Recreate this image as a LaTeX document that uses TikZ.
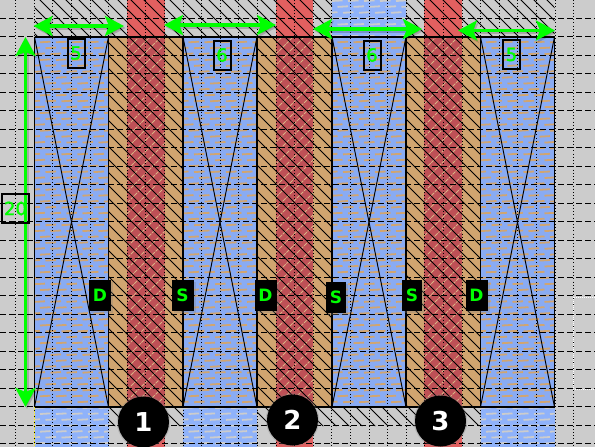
\documentclass[tikz,border=0pt]{standalone}
\usepackage{fontspec}
\setmainfont{DejaVu Sans}
\newfontfamily\medfont[FakeBold=2]{DejaVu Sans}
\usetikzlibrary{arrows.meta,shadows}
\definecolor{bggrey}{RGB}{204,204,204}
\definecolor{tanc}{RGB}{209,165,112}
\definecolor{redb}{RGB}{226,96,96}
\definecolor{redd}{RGB}{190,80,86}
\definecolor{blued}{RGB}{137,171,243}
\definecolor{bluel}{RGB}{143,178,250}
\definecolor{greenc}{RGB}{0,255,0}
\tikzset{
  x=1pt,y=-1pt,
  diagline/.style={black,line width=.9pt},
  crossline/.style={tanc!85!white,line width=.8pt,dash pattern=on 4pt off 1pt},
  gridh/.style={black,line width=1.1pt,dash pattern=on 5.5pt off 3.5pt},
  gridv/.style={black,line width=1.1pt,dash pattern=on 1pt off 2.2pt},
  cell/.style={black,line width=1.2pt},
  xline/.style={black,line width=.9pt},
  dimline/.style={greenc,line width=3.6pt,{Stealth[length=19pt,width=20pt,inset=4pt]}-{Stealth[length=19pt,width=20pt,inset=4pt]}},
  dimshadow/.style={black,opacity=.18,line width=3.6pt,{Stealth[length=19pt,width=20pt,inset=4pt]}-{Stealth[length=19pt,width=20pt,inset=4pt]}},
  dimlabel/.style={draw=black,line width=2pt,text=greenc,font=\medfont\fontsize{18}{18}\selectfont,inner sep=0pt,minimum width=17pt,minimum height=29pt},
  termlabel/.style={fill=black,text=greenc,font=\bfseries\fontsize{17}{17}\selectfont,inner sep=0pt,minimum width=22pt,minimum height=31pt,drop shadow={opacity=.3,shadow xshift=2pt,shadow yshift=-2pt}},
  gatecircle/.style={circle,fill=black,text=white,font=\bfseries\fontsize{26}{26}\selectfont,inner sep=0pt,minimum size=51pt,drop shadow={opacity=.3,shadow xshift=0pt,shadow yshift=0pt,shadow scale=1.05}},
  texdash/.style={line width=1.8pt},
}
\newcommand{\dimarr}[2]{%
  \draw[dimshadow,transform canvas={shift={(1.5pt,-2pt)}}] (#1) -- (#2);
  \draw[dimline] (#1) -- (#2);}
\newcommand{\bluetex}[4]{%
  \foreach \k in {#3,...,#4}{
    \pgfmathsetmacro{\yy}{\k*5.9+1}
    \pgfmathsetmacro{\off}{mod(\k,3)*5.5}
    \foreach \j in {-1,0,1,2,3,4}{
      \pgfmathsetmacro{\xs}{#1+\j*16+\off}
      \draw[texdash,draw=#2] (\xs,\yy) -- ++(10.5,-.6);
    }
  }}
\begin{document}
\begin{tikzpicture}
\useasboundingbox (0,0) rectangle (595,447);
\clip (0,0) rectangle (595,447);
\fill[bggrey] (0,0) rectangle (595,447);
\foreach \x in {127,275.5,424}{
  \fill[redb] (\x,0) rectangle (\x+37.5,447);
  \fill[redd] (\x,37) rectangle (\x+37.5,407);
}
\foreach \x/\w in {108.5/18.5,164.5/18.5,257/18.5,313/19,406/18,462/18}{
  \fill[tanc] (\x,37) rectangle (\x+\w,407);
}
\foreach \x in {34.5,183,332,480.5}{
  \fill[blued] (\x,37) rectangle (\x+74,407);
  \begin{scope}
    \clip (\x,37) rectangle (\x+74,407);
    \bluetex{\x}{tanc}{6}{70}
  \end{scope}
}
\foreach \x/\ya/\yb/\ra/\rb in {34.5/407/447/69/76,183/407/447/69/76,480.5/407/447/69/76,332/0/37/0/7}{
  \fill[bluel] (\x,\ya) rectangle (\x+74,\yb);
  \begin{scope}
    \clip (\x,\ya) rectangle (\x+74,\yb);
    \bluetex{\x}{bggrey}{\ra}{\rb}
  \end{scope}
}
\begin{scope}
  \clip (127,37) rectangle (164.5,407) (275.5,37) rectangle (313,407) (424,37) rectangle (461.5,407);
  \foreach \c in {0,11,...,1040}{
    \draw[crossline] (0,\c) -- (600,\c-600);
  }
\end{scope}
\begin{scope}
  \clip (34.5,0) rectangle (332,37) (406,0) rectangle (554.5,37)
        (108.5,37) rectangle (183,407) (257,37) rectangle (332,407) (406,37) rectangle (480.5,407)
        (108.5,407) rectangle (183,426) (257,407) rectangle (480.5,426);
  \foreach \c in {-560,-547,...,430}{
    \draw[diagline] (0,\c) -- (600,\c+600);
  }
\end{scope}
\foreach \k in {0,...,24}{
  \pgfmathsetmacro{\yy}{-.3+18.5*\k}
  \draw[gridh] (0,\yy) -- (595,\yy);
}
\foreach \k in {-1,...,29}{
  \pgfmathsetmacro{\xx}{34.3+18.6*\k}
  \draw[gridv] (\xx,0) -- (\xx,447);
}
\draw[white,line width=1pt,dash pattern=on 1pt off 1pt] (595,297) -- (573,297) -- (573,389) -- (595,389);
\draw[cell] (34.5,37) -- (554.5,37);
\draw[cell] (34.5,407) -- (554.5,407);
\foreach \x in {34.5,108.5,183,257,332,406,480.5,554.5}{
  \draw[cell] (\x,37) -- (\x,407);
}
\foreach \x in {34.5,183,332,480.5}{
  \draw[xline] (\x,37) -- (\x+74,407);
  \draw[xline] (\x+74,37) -- (\x,407);
}
\draw[yellow,line width=.8pt,dash pattern=on 1pt off 1pt] (34.5,407) -- (34.5,447);
\coordinate (a1l) at (33.5,26);   \coordinate (a1r) at (124,26);
\coordinate (a2l) at (164,25);    \coordinate (a2r) at (276,25);
\coordinate (a3l) at (313,29);    \coordinate (a3r) at (422,29);
\coordinate (a4l) at (458,30.5);  \coordinate (a4r) at (555,30.5);
\coordinate (a5t) at (25.5,37);   \coordinate (a5b) at (25.5,407);
\dimarr{a1l}{a1r}
\dimarr{a2l}{a2r}
\dimarr{a3l}{a3r}
\dimarr{a4l}{a4r}
\dimarr{a5t}{a5b}
\node[dimlabel] (w1) at (76,53) {5};
\node[dimlabel] (w2) at (222,55) {6};
\node[dimlabel] (w3) at (372,55) {6};
\node[dimlabel] (w4) at (511.5,54.5) {5};
\node[dimlabel,minimum width=27pt,minimum height=29pt] (len) at (15.5,208.5) {20};
\node[termlabel] (t1) at (100,295) {D};
\node[termlabel] (t2) at (182.5,295) {S};
\node[termlabel] (t3) at (265.5,295) {D};
\node[termlabel,minimum width=20pt] (t4) at (336,297) {S};
\node[termlabel,minimum width=20pt] (t5) at (412,295) {S};
\node[termlabel] (t6) at (476.5,295) {D};
\node[gatecircle] (g1) at (143.5,422) {1};
\node[gatecircle] (g2) at (292.5,420) {2};
\node[gatecircle] (g3) at (440.5,421) {3};
\end{tikzpicture}
\end{document}
